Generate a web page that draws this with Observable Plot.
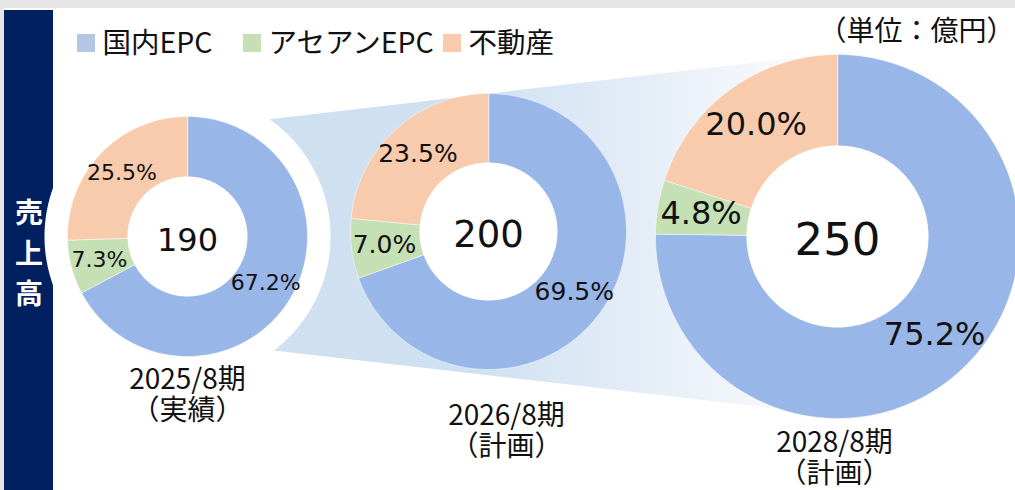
<!DOCTYPE html>
<html>
<head>
<meta charset="utf-8">
<script src="https://cdn.jsdelivr.net/npm/d3@7"></script>
<script src="https://cdn.jsdelivr.net/npm/@observablehq/plot@0.6"></script>
<style>
  body { margin: 0; background: #fff; }
  g[aria-label="pct"] text, g[aria-label="total"] text { letter-spacing: 0.07em; }
  g[aria-label="period"] text { font-feature-settings: "palt"; }
</style>
</head>
<body>
<div id="chart"></div>
<script>
// ---- data ----
const periods = ["2025/8期", "2026/8期", "2028/8期"];
const periodNotes = ["（実績）", "（計画）", "（計画）"];
const totals = [190, 200, 250];
const segments = ["国内EPC", "アセアンEPC", "不動産"];
const domesticEPC = [67.2, 69.5, 75.2];
const aseanEPC = [7.3, 7.0, 4.8];
const realEstate = [25.5, 23.5, 20.0];
const unitLabel = "（単位：億円）";
const sideTitle = "売上高";

// ---- layout / style ----
const W = 1015, H = 490;
const layout = {
  cx: [187, 488, 837], cy: [236, 231, 236], R: [120, 138, 182], hole: 0.5,
  labelR: 0.76, pctSize: [22, 25, 32], totalSize: [32, 37, 45],
  periodX: [187, 506, 834], periodY: [380, 416, 443], periodGap: 31, periodSize: 28,
  gapR: 143,
  bandTop: [[267, 119], [857, 50]], bandBot: [[273, 350], [767, 407]], bandX: [187, 860],
  gradX: [470, 810],
  legendX: [77, 243, 443], legendY: 43, legendSize: 28.5, swatch: 18
};
const sliceColors = ["#98b6e8", "#c5e0b4", "#f8cbad"];
const legendColors = ["#b4c7e7", "#c5e0b4", "#f8cbad"];
const navy = "#002060";
const jp = "'Noto Sans CJK JP', sans-serif";
const num = "'DejaVu Sans', sans-serif";

// ---- geometry built from the data ----
function circlePts(cx, cy, r, id) {
  const pts = [];
  for (let i = 0; i < 360; i++) {
    const a = i * Math.PI / 180;
    pts.push({id, x: cx + r * Math.sin(a), y: cy - r * Math.cos(a)});
  }
  return pts;
}
const sliceRows = [];
const labelRows = [];
periods.forEach((p, k) => {
  const shares = [domesticEPC[k], aseanEPC[k], realEstate[k]];
  const cx = layout.cx[k], cy = layout.cy[k], R = layout.R[k];
  let a0 = 0;
  shares.forEach((s, j) => {
    const a1 = a0 + s / 100 * 2 * Math.PI;
    const id = k + "-" + j;
    sliceRows.push({id, segment: segments[j], x: cx, y: cy});
    const n = Math.max(2, Math.ceil((a1 - a0) / (Math.PI / 180)));
    for (let i = 0; i <= n; i++) {
      const a = a0 + (a1 - a0) * i / n;
      sliceRows.push({id, segment: segments[j], x: cx + R * Math.sin(a), y: cy - R * Math.cos(a)});
    }
    const am = (a0 + a1) / 2, rl = R * layout.labelR;
    labelRows.push({k, text: s.toFixed(1) + "%", x: cx + rl * Math.sin(am), y: cy - rl * Math.cos(am)});
    a0 = a1;
  });
});
const holeRows = periods.flatMap((p, k) => circlePts(layout.cx[k], layout.cy[k], layout.R[k] * layout.hole, "h" + k));
const gapRows = circlePts(layout.cx[0], layout.cy[0], layout.gapR, "gap");
const lineAt = (seg, x) => seg[0][1] + (seg[1][1] - seg[0][1]) * (x - seg[0][0]) / (seg[1][0] - seg[0][0]);
const bandRows = [
  {x: layout.bandX[0], y: lineAt(layout.bandTop, layout.bandX[0])},
  {x: layout.bandX[1], y: lineAt(layout.bandTop, layout.bandX[1])},
  {x: layout.bandX[1], y: lineAt(layout.bandBot, layout.bandX[1])},
  {x: layout.bandX[0], y: lineAt(layout.bandBot, layout.bandX[0])}
];

const gradientDefs = (index, scales) => {
  const defs = d3.create("svg:defs");
  const g = defs.append("linearGradient").attr("id", "bandGrad")
    .attr("gradientUnits", "userSpaceOnUse")
    .attr("x1", scales.x(layout.gradX[0])).attr("x2", scales.x(layout.gradX[1]))
    .attr("y1", 0).attr("y2", 0);
  g.append("stop").attr("offset", 0).attr("stop-color", "#cfe0f1");
  g.append("stop").attr("offset", 0.5).attr("stop-color", "#e4edf7");
  g.append("stop").attr("offset", 1).attr("stop-color", "#fbfcfe");
  return defs.node();
};

const marks = [
  Plot.rect([0], {x1: 0, x2: W, y1: 0, y2: 8, fill: "#e6e6e6"}),
  Plot.rect([0], {x1: 0, x2: 4, y1: 0, y2: H, fill: "#e6e6e6"}),
  Plot.rect([0], {x1: 4, x2: 53, y1: 10, y2: H, fill: navy}),
  gradientDefs,
  Plot.line(bandRows, {x: "x", y: "y", fill: "url(#bandGrad)", stroke: "none", curve: "linear-closed"}),
  Plot.line(gapRows, {x: "x", y: "y", fill: "white", stroke: "none", curve: "linear-closed"}),
  Plot.line(sliceRows, {x: "x", y: "y", z: "id", fill: "segment", stroke: "white", strokeWidth: 0.5, curve: "linear-closed"}),
  Plot.line(holeRows, {x: "x", y: "y", z: "id", fill: "white", stroke: "none", curve: "linear-closed"}),
  ...periods.map((p, k) => Plot.text(labelRows.filter(d => d.k === k), {
    x: "x", y: "y", text: "text", fontSize: layout.pctSize[k], fontFamily: num, fill: "#111", ariaLabel: "pct"
  })),
  ...periods.map((p, k) => Plot.text([totals[k]], {
    x: layout.cx[k], y: layout.cy[k] + 4, text: d => String(d), fontSize: layout.totalSize[k], fontFamily: num, fill: "#111", ariaLabel: "total"
  })),
  ...periods.map((p, k) => Plot.text([p], {
    x: layout.periodX[k], y: layout.periodY[k], text: d => d, fontSize: layout.periodSize, fontFamily: jp, fill: "#111", ariaLabel: "period"
  })),
  ...periods.map((p, k) => Plot.text([periodNotes[k]], {
    x: layout.periodX[k], y: layout.periodY[k] + layout.periodGap, text: d => d, fontSize: layout.periodSize, fontFamily: jp, fill: "#111", ariaLabel: "period"
  })),
  ...segments.map((s, j) => Plot.rect([s], {
    x1: layout.legendX[j], x2: layout.legendX[j] + layout.swatch,
    y1: layout.legendY - layout.swatch / 2, y2: layout.legendY + layout.swatch / 2, fill: legendColors[j]
  })),
  ...segments.map((s, j) => Plot.text([s], {
    x: layout.legendX[j] + layout.swatch + 7, y: layout.legendY, text: d => d, textAnchor: "start",
    fontSize: layout.legendSize, fontFamily: jp, fill: "#111"
  })),
  Plot.text([unitLabel], {x: W - 1, y: 32, text: d => d, textAnchor: "end", fontSize: 28, fontFamily: jp, fill: "#111"}),
  Plot.text([sideTitle.split("").join("\n")], {x: 28.5, y: 250, text: d => d, fontSize: 28, fontWeight: "bold", lineHeight: 1.45, fontFamily: jp, fill: "white"})
];

const chart = Plot.plot({
  width: W, height: H,
  margin: 0,
  x: {domain: [0, W], range: [0, W], axis: null},
  y: {domain: [0, H], range: [0, H], axis: null},
  color: {domain: segments, range: sliceColors},
  style: {background: "white", fontFamily: jp, overflow: "hidden"},
  marks
});
document.getElementById("chart").append(chart);
</script>
</body>
</html>
